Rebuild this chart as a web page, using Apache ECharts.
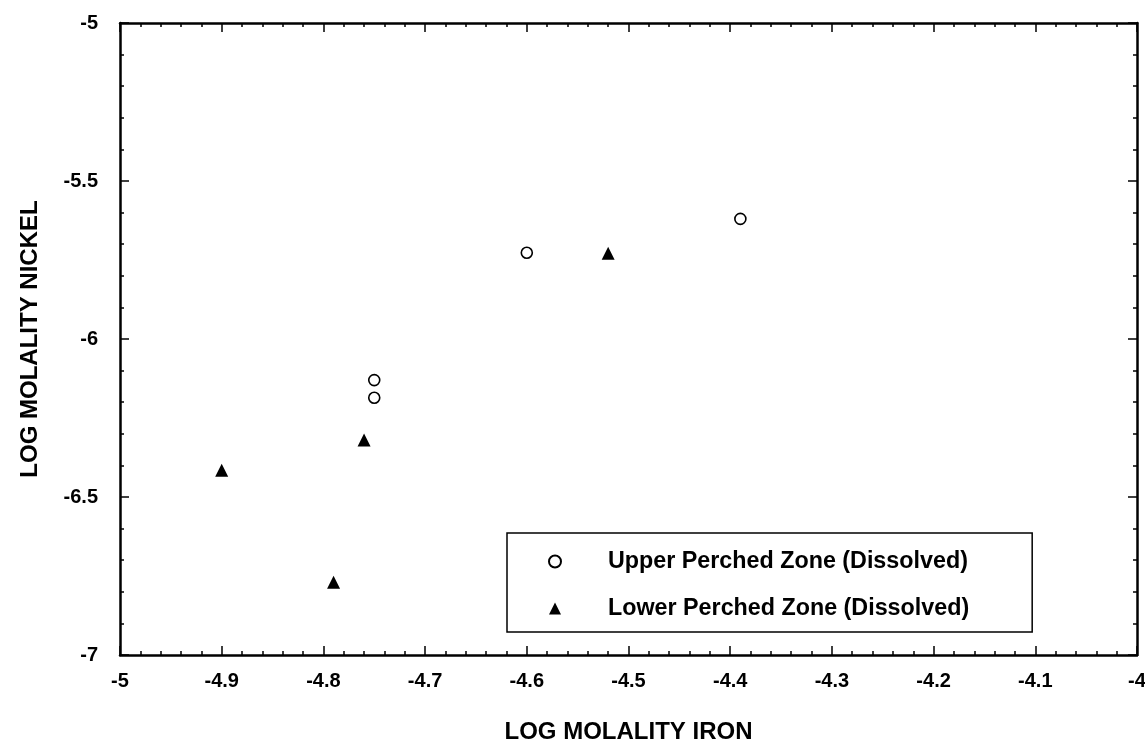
<!DOCTYPE html>
<html><head><meta charset="utf-8">
<script src="https://cdn.jsdelivr.net/npm/echarts@6/dist/echarts.min.js"></script>
<style>html,body{margin:0;padding:0;background:#fff}#c{width:1145px;height:740px}</style>
</head><body><div id="c"></div>
<script>
const upperName = 'Upper Perched Zone (Dissolved)';
const lowerName = 'Lower Perched Zone (Dissolved)';
const upperIron = [-4.60, -4.39, -4.75, -4.75];
const upperNickel = [-5.727, -5.62, -6.13, -6.186];
const lowerIron = [-4.52, -4.76, -4.90, -4.79];
const lowerNickel = [-5.729, -6.32, -6.415, -6.77];
const xTitle = 'LOG MOLALITY IRON';
const yTitle = 'LOG MOLALITY NICKEL';

const FONT = '"Liberation Sans", Arial, sans-serif';
const pairs = (xs, ys) => xs.map((x, i) => [x, ys[i]]);
const axisBase = {
  type: 'value',
  axisLine: { show: true, lineStyle: { color: '#000', width: 2.5 } },
  axisTick: { show: true, inside: true, length: 9, lineStyle: { color: '#000', width: 1.5 } },
  minorTick: { show: true, splitNumber: 5, length: 4, lineStyle: { color: '#000', width: 1.5 } },
  splitLine: { show: false },
  minorSplitLine: { show: false }
};
const chart = echarts.init(document.getElementById('c'));
chart.setOption({
  animation: false,
  backgroundColor: '#fff',
  grid: { left: 120, right: 8, top: 23, bottom: 85, containLabel: false, outerBoundsMode: 'none' },
  xAxis: [
    Object.assign({}, axisBase, {
      min: -5, max: -4, interval: 0.1, position: 'bottom',
      axisLabel: { color: '#000', fontSize: 20, fontWeight: 'bold', fontFamily: FONT, margin: 16, showMaxLabel: true },
      name: xTitle, nameLocation: 'middle', nameGap: 65,
      nameTextStyle: { color: '#000', fontSize: 24, fontWeight: 'bold', fontFamily: FONT }
    }),
    Object.assign({}, axisBase, {
      min: -5, max: -4, interval: 0.1, position: 'top', axisLabel: { show: false }
    })
  ],
  yAxis: [
    Object.assign({}, axisBase, {
      min: -7, max: -5, interval: 0.5, position: 'left',
      axisLabel: { color: '#000', fontSize: 20, fontWeight: 'bold', fontFamily: FONT, margin: 22 },
      name: yTitle, nameLocation: 'middle', nameGap: 78, nameRotate: 90,
      nameTextStyle: { color: '#000', fontSize: 24, fontWeight: 'bold', fontFamily: FONT }
    }),
    Object.assign({}, axisBase, {
      min: -7, max: -5, interval: 0.5, position: 'right', axisLabel: { show: false }
    })
  ],
  legend: {
    orient: 'vertical',
    left: 507, top: 533,
    padding: [17, 63, 12, 41],
    itemGap: 24,
    itemWidth: 12, itemHeight: 12,
    borderColor: '#000', borderWidth: 1.5, borderRadius: 0,
    backgroundColor: '#fff',
    selectedMode: false,
    textStyle: { color: '#000', fontSize: 23.3, fontWeight: 'bold', fontFamily: FONT, padding: [0, 0, 0, 42] },
    data: [upperName, lowerName]
  },
  series: [
    {
      name: upperName, type: 'scatter', xAxisIndex: 0, yAxisIndex: 0,
      symbol: 'circle', symbolSize: 11,
      itemStyle: { color: '#fff', borderColor: '#000', borderWidth: 1.6, opacity: 1 },
      data: pairs(upperIron, upperNickel)
    },
    {
      name: lowerName, type: 'scatter', xAxisIndex: 0, yAxisIndex: 0,
      symbol: 'triangle', symbolSize: 13,
      itemStyle: { color: '#000', opacity: 1 },
      data: pairs(lowerIron, lowerNickel)
    }
  ]
});
</script></body></html>
